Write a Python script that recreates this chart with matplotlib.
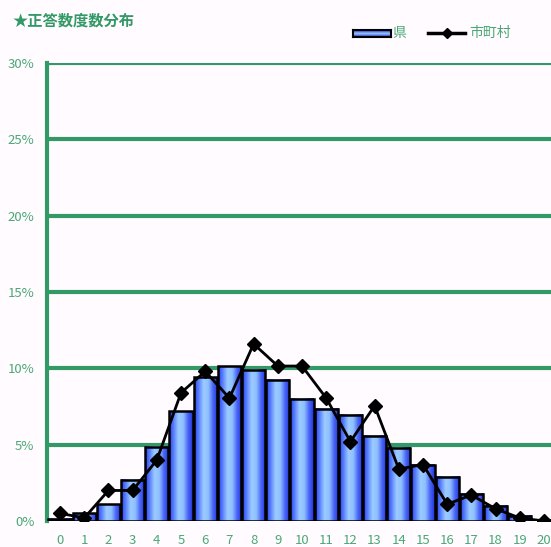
import numpy as np
import matplotlib.pyplot as plt
from matplotlib.colors import LinearSegmentedColormap
from matplotlib.lines import Line2D
from matplotlib.patches import Rectangle

plt.rcParams['font.family'] = ['Noto Sans CJK JP', 'DejaVu Sans']

scores = list(range(21))
pref = [0.15, 0.5, 1.1, 2.7, 4.85, 7.2, 9.4, 10.15, 9.9, 9.25, 8.0,
        7.35, 6.95, 5.6, 4.8, 3.7, 2.9, 1.8, 1.0, 0.35, 0.05]
city = [0.5, 0.2, 2.0, 2.0, 4.0, 8.4, 9.8, 8.05, 11.6, 10.15, 10.15,
        8.05, 5.2, 7.55, 3.4, 3.7, 1.1, 1.7, 0.8, 0.2, 0.0]
yticks = [0, 5, 10, 15, 20, 25, 30]

green = "#339966"
label_green = "#4aa876"
bg = "#fffbff"

grad = LinearSegmentedColormap.from_list(
    "bar", ["#2a3cf0", "#5b83ff", "#9cccff", "#8fbfff", "#4a66f5", "#2233dd"])
gradient = np.linspace(0, 1, 64).reshape(1, -1)

fig = plt.figure(figsize=(5.51, 5.47), dpi=100, facecolor=bg)
ax = fig.add_axes([47 / 551, 26 / 547, 504 / 551, 458 / 547])
ax.set_facecolor(bg)

# gridlines
for t in yticks:
    ax.axhline(t, color=green, lw=3, zorder=1)

# bars with horizontal gradient
w = 0.96
for x, h in zip(scores, pref):
    if h <= 0:
        continue
    ax.imshow(gradient, cmap=grad, aspect="auto", extent=[x - w / 2, x + w / 2, 0, h],
              zorder=2, interpolation="bilinear")
    ax.add_patch(Rectangle((x - w / 2, 0), w, h, fill=False, ec="black", lw=1.8, zorder=3))

ax.plot(scores, city, color="black", lw=2, marker="D", ms=7, zorder=4)

ax.set_xlim(-0.54, 20.29)
ax.set_ylim(0, 30)
ax.set_yticks(yticks)
ax.set_yticklabels([f"{t}%" for t in yticks])
ax.set_xticks(scores)
ax.set_xticklabels([str(s) for s in scores])
ax.tick_params(axis="both", colors=label_green, labelsize=9.5, length=0)
ax.tick_params(axis="y", pad=9)
ax.tick_params(axis="x", pad=9)
for s in ["top", "right", "bottom"]:
    ax.spines[s].set_visible(False)
ax.spines["left"].set_color(green)
ax.spines["left"].set_linewidth(3)

fig.text(12 / 551, 1 - 21 / 547, "★正答数度数分布", color=green, fontsize=11,
         fontweight="bold", va="center", ha="left")

# legend
lax = fig.add_axes([353 / 551, 1 - 37 / 547, 38 / 551, 7 / 547])
lax.imshow(gradient.T, cmap=LinearSegmentedColormap.from_list(
    "lg", ["#1a2ad0", "#9cccff", "#1a2ad0"]), aspect="auto")
lax.set_xticks([])
lax.set_yticks([])
for s in lax.spines.values():
    s.set_linewidth(1.5)
fig.text(392 / 551, 1 - 33 / 547, "県", color=label_green, fontsize=10, va="center")
fig.add_artist(Line2D([428 / 551, 465 / 551], [1 - 33 / 547, 1 - 33 / 547],
                      transform=fig.transFigure, color="black", lw=2.5))
fig.add_artist(Line2D([446.5 / 551], [1 - 33 / 547], transform=fig.transFigure,
                      color="black", marker="D", ms=5))
fig.text(469 / 551, 1 - 33 / 547, "市町村", color=label_green, fontsize=10, va="center")

fig.savefig("out.png", dpi=100, facecolor=bg)
